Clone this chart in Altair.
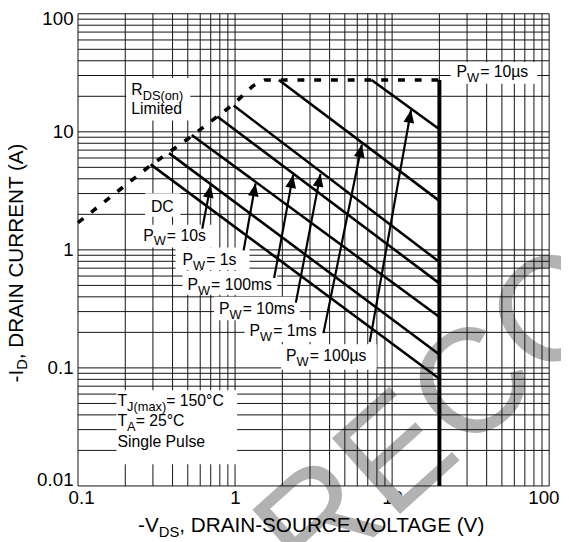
import math
import altair as alt
import pandas as pd

FONT = "Liberation Sans"
W, H = 478, 479

# ---------------- data ----------------
grid_v = [0.1, 0.2, 0.3, 0.4, 0.5, 0.6, 0.7, 0.8, 0.9,
          1, 2, 3, 4, 5, 6, 7, 8, 9,
          10, 20, 30, 40, 50, 60, 70, 80, 90, 100]
grid_i = [0.01, 0.02, 0.03, 0.04, 0.05, 0.06, 0.07, 0.08, 0.09,
          0.1, 0.2, 0.3, 0.4, 0.5, 0.6, 0.7, 0.8, 0.9,
          1, 2, 3, 4, 5, 6, 7, 8, 9,
          10, 20, 30, 40, 50, 60, 70, 80, 90, 100]
x_ticks = [0.1, 1, 10, 100]
y_ticks = [0.01, 0.1, 1, 10, 100]

# pulse-width limit lines (start on the limit curve, end at V = 20)
pulse_names = ["DC", "10s", "1s", "100ms", "10ms", "1ms", "100us"]
pulse_v_start = [0.29, 0.38, 0.53, 0.77, 0.98, 1.9, 7.4]
pulse_i_start = [5.3, 6.6, 9.4, 13.5, 16.7, 27.5, 27.5]
pulse_v_end = [20, 20, 20, 20, 20, 20, 20]
pulse_i_end = [0.081, 0.13, 0.27, 0.52, 0.79, 2.6, 10.5]

# RDS(on) limit + current limit (dashed)
limit_v = [0.1, 0.29, 0.53, 0.98, 1.3, 1.55, 20]
limit_i = [1.7, 5.2, 9.2, 17.2, 24.5, 27.5, 27.5]

# max voltage boundary
vmax_v = [20]
vmax_i_top = [27.5]
vmax_i_bot = [0.01]

# arrows (tail near label -> tip on line)
arrow_tail_v = [0.618, 1.134, 1.774, 2.439, 3.654, 7.207]
arrow_tail_i = [1.512, 0.990, 0.578, 0.357, 0.197, 0.166]
arrow_tip_v = [0.70, 1.35, 2.34, 3.50, 6.42, 13.2]
arrow_tip_i = [3.55, 3.65, 4.3, 4.4, 7.8, 15.3]

# white label boxes
box_v1 = [0.203, 23.6, 0.267, 0.241, 0.418, 0.463, 0.735, 1.150, 1.963, 0.1757]
box_v2 = [0.519, 84.0, 0.449, 0.724, 1.236, 1.853, 2.584, 3.601, 7.975, 1.03]
box_i1 = [12.5, 25.5, 1.904, 1.049, 0.674, 0.417, 0.253, 0.166, 0.0967, 0.0153]
box_i2 = [28.6, 39.0, 3.02, 1.633, 1.049, 0.661, 0.401, 0.253, 0.159, 0.0646]

# P_W labels (anchor = left/baseline of "P")
pw_text = ["10µs", "10s", "1s", "100ms", "10ms", "1ms", "100µs"]
pw_v = [25.7, 0.26, 0.463, 0.4975, 0.79, 1.236, 2.11]
pw_i = [29.2, 1.2, 0.742, 0.459, 0.284, 0.186, 0.115]

# other labels: (pieces) text, V, I, size, dx, dy
other_labels = [
    ("R", 0.2183, 20.66, 16, 0, 0),
    ("DS(on)", 0.2183, 20.66, 13, 11.6, 5),
    ("Limited", 0.2183, 14.06, 16, 0, 0),
    ("DC", 0.2913, 2.097, 16, 0, 0),
    ("T", 0.1782, 0.04747, 16, 0, 0),
    ("J(max)", 0.1782, 0.04747, 13, 9.8, 5),
    (" = 150°C", 0.1782, 0.04747, 16, 49.5, 0),
    ("T", 0.1782, 0.03231, 16, 0, 0),
    ("A", 0.1782, 0.03231, 13, 9.8, 5),
    (" = 25°C", 0.1782, 0.03231, 16, 18.5, 0),
    ("Single Pulse", 0.1782, 0.02117, 16, 0, 0),
]

watermark_text = "RECOMMENDED"

# ---------------- helpers ----------------
xs = alt.Scale(type="log", domain=[x_ticks[0], x_ticks[-1]], nice=False)
ys = alt.Scale(type="log", domain=[y_ticks[0], y_ticks[-1]], nice=False)
xaxis = alt.Axis(values=x_ticks, format="~g", grid=False, ticks=False, domain=False,
                 labelFont=FONT, labelFontSize=19, labelColor="black",
                 labelPadding=3, labelFlush=True, labelFlushOffset=10, title=None)
yaxis = alt.Axis(values=y_ticks, format="~g", grid=False, ticks=False, domain=False,
                 labelFont=FONT, labelFontSize=19, labelColor="black",
                 labelPadding=5, labelFlush=True, labelFlushOffset=4, title=None)


def X(f):
    return alt.X(f"{f}:Q", scale=xs, axis=xaxis)


def Y(f):
    return alt.Y(f"{f}:Q", scale=ys, axis=yaxis)


layers = []

# watermark
wm = alt.Chart(pd.DataFrame({"t": [watermark_text]})).mark_text(
    font=FONT, fontSize=150, color="#b2b2b2", angle=318, align="left",
    baseline="alphabetic").encode(text="t:N", x=alt.value(237), y=alt.value(588))
layers.append(wm)

# grid
gx = pd.DataFrame({"V": grid_v, "I0": y_ticks[0], "I1": y_ticks[-1]})
gy = pd.DataFrame({"I": grid_i, "V0": x_ticks[0], "V1": x_ticks[-1]})
layers.append(alt.Chart(gx).mark_rule(color="#111", strokeWidth=1).encode(
    x=X("V"), y=Y("I0"), y2="I1:Q"))
layers.append(alt.Chart(gy).mark_rule(color="#111", strokeWidth=1).encode(
    y=Y("I"), x=X("V0"), x2="V1:Q"))

# white boxes
bx = pd.DataFrame({"V": box_v1, "V2": box_v2, "I": box_i1, "I2": box_i2})
layers.append(alt.Chart(bx).mark_rect(color="white", opacity=1).encode(
    x=X("V"), x2="V2:Q", y=Y("I"), y2="I2:Q"))

# pulse lines
pl = pd.DataFrame({"name": pulse_names, "V": pulse_v_start, "I": pulse_i_start,
                   "V2": pulse_v_end, "I2": pulse_i_end})
layers.append(alt.Chart(pl).mark_rule(color="black", strokeWidth=2.6).encode(
    x=X("V"), x2="V2:Q", y=Y("I"), y2="I2:Q"))

# dashed limit
lim = pd.DataFrame({"V": limit_v, "I": limit_i, "o": list(range(len(limit_v)))})
layers.append(alt.Chart(lim).mark_line(color="black", strokeWidth=3.6,
                                       strokeDash=[7, 10]).encode(
    x=X("V"), y=Y("I"), order="o:Q"))

# vmax boundary
vm = pd.DataFrame({"V": vmax_v, "I": vmax_i_top, "I2": vmax_i_bot})
layers.append(alt.Chart(vm).mark_rule(color="black", strokeWidth=4).encode(
    x=X("V"), y=Y("I"), y2="I2:Q"))

# arrows
ang = []
for tv, ti, pv, pi in zip(arrow_tail_v, arrow_tail_i, arrow_tip_v, arrow_tip_i):
    dxp = (math.log10(pv) - math.log10(tv)) * W / 3
    dyp = (math.log10(pi) - math.log10(ti)) * H / 4
    ang.append(math.degrees(math.atan2(dxp, dyp)))
ar = pd.DataFrame({"V": arrow_tail_v, "I": arrow_tail_i, "V2": arrow_tip_v,
                   "I2": arrow_tip_i, "ang": ang})
layers.append(alt.Chart(ar).mark_rule(color="black", strokeWidth=2.2).encode(
    x=X("V"), x2="V2:Q", y=Y("I"), y2="I2:Q"))
layers.append(alt.Chart(ar).mark_point(shape="M0,0L-0.42,1L0.42,1Z", filled=True,
                                       color="black", opacity=1, size=676,
                                       strokeWidth=0).encode(
    x=X("V2"), y=Y("I2"), angle=alt.Angle("ang:Q", scale=None)))

# P_W labels
pw = pd.DataFrame({"t": pw_text, "V": pw_v, "I": pw_i})
pw["rest"] = " = " + pw["t"]
pw["P"] = "P"
pw["W"] = "W"
for col, size, dx, dy in [("P", 16, 0, 0), ("W", 13, 10.7, 5), ("rest", 16, 24, 0)]:
    layers.append(alt.Chart(pw).mark_text(font=FONT, fontSize=size, color="black",
                                          align="left", baseline="alphabetic",
                                          dx=dx, dy=dy).encode(
        x=X("V"), y=Y("I"), text=f"{col}:N"))

for (t, v, i, size, dx, dy) in other_labels:
    d = pd.DataFrame({"t": [t], "V": [v], "I": [i]})
    layers.append(alt.Chart(d).mark_text(font=FONT, fontSize=size, color="black",
                                         align="left", baseline="alphabetic",
                                         dx=dx, dy=dy).encode(
        x=X("V"), y=Y("I"), text="t:N"))

# axis titles (with subscripts)
x_title = [("-V", 21, 61, 526), ("DS", 15, 82, 531),
           (", DRAIN-SOURCE VOLTAGE (V)", 21, 102.8, 526)]
for t, size, px, py in x_title:
    layers.append(alt.Chart(pd.DataFrame({"t": [t]})).mark_text(
        font=FONT, fontSize=size, color="black", align="left",
        baseline="alphabetic").encode(text="t:N", x=alt.value(px), y=alt.value(py)))

y_title = [("-I", 21, -56, 374), ("D", 15, -52, 361.2),
           (", DRAIN CURRENT (A)", 21, -56, 350.4)]
for t, size, px, py in y_title:
    layers.append(alt.Chart(pd.DataFrame({"t": [t]})).mark_text(
        font=FONT, fontSize=size, color="black", align="left", angle=270,
        baseline="alphabetic").encode(text="t:N", x=alt.value(px), y=alt.value(py)))

chart = alt.layer(*layers).properties(
    width=W, height=H,
    padding={"left": 71, "top": 2, "right": 12, "bottom": 53},
    autosize=alt.AutoSizeParams(type="none"),
    background="white",
).configure_view(stroke=None)

chart.save("out.html", embed_options={"renderer": "svg", "actions": False})
